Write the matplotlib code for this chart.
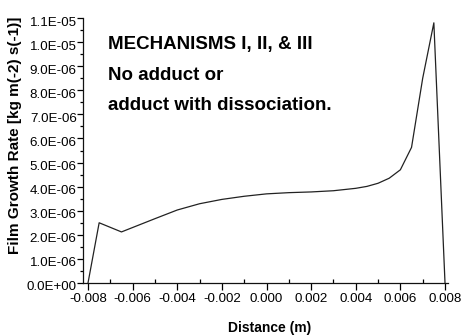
import matplotlib
matplotlib.use("Agg")
import matplotlib.pyplot as plt
from matplotlib.ticker import FuncFormatter, MultipleLocator, FixedLocator
from matplotlib.transforms import ScaledTranslation

plt.rcParams['font.family'] = ['Liberation Sans', 'DejaVu Sans']

distance = [-0.008, -0.0075, -0.0065, -0.005, -0.004, -0.003, -0.002, -0.001, 0.0,
            0.001, 0.002, 0.003, 0.004, 0.0045, 0.005, 0.0055, 0.006, 0.0065,
            0.007, 0.0075, 0.008]
growth_rate = [0.0, 2.50e-6, 2.12e-6, 2.67e-6, 3.03e-6, 3.29e-6, 3.47e-6, 3.60e-6, 3.70e-6,
               3.75e-6, 3.78e-6, 3.83e-6, 3.93e-6, 4.01e-6, 4.14e-6, 4.35e-6, 4.70e-6, 5.63e-6,
               8.50e-6, 10.80e-6, 0.0]
x_ticks = [-0.008, -0.006, -0.004, -0.002, 0.0, 0.002, 0.004, 0.006, 0.008]
y_ticks = [i * 1e-6 for i in range(12)]
annotation_lines = ["MECHANISMS I, II, & III", "No adduct or", "adduct with dissociation."]

fig = plt.figure(figsize=(4.66, 3.35), dpi=100)
ax = fig.add_axes([83/466, 1-283/335, 365/466, 265/335])

ax.plot(distance, growth_rate, color='#222222', lw=0.9)

ax.set_xlim(-0.008224, 0.008134)
ax.set_ylim(0, 1.1e-5)
ax.xaxis.set_major_locator(FixedLocator(x_ticks))
ax.xaxis.set_minor_locator(MultipleLocator(0.001))
ax.yaxis.set_major_locator(FixedLocator(y_ticks))
ax.yaxis.set_minor_locator(MultipleLocator(0.5e-6))
ax.xaxis.set_major_formatter(FuncFormatter(lambda v, p: f"{0.0 if abs(v) < 1e-12 else v:.3f}"))
ax.yaxis.set_major_formatter(FuncFormatter(lambda v, p: f"{v:.1E}"))

for s in ['top', 'right']:
    ax.spines[s].set_visible(False)
for s in ['left', 'bottom']:
    ax.spines[s].set_linewidth(0.9)
    ax.spines[s].set_color('#111111')

ax.tick_params(axis='x', which='major', direction='out', length=5, width=0.9, labelsize=9.6, pad=2)
ax.tick_params(axis='x', which='minor', direction='in', length=3, width=0.9)
ax.tick_params(axis='y', which='major', direction='out', length=4, width=0.9, labelsize=9.6, pad=0.5)
ax.tick_params(axis='y', which='minor', direction='out', length=2, width=0.9)

fig.canvas.draw()
off = ScaledTranslation(0, -0.03, fig.dpi_scale_trans)
for t in ax.yaxis.get_major_ticks():
    t.label1.set_transform(t.label1.get_transform() + off)

ypos = [0.883, 0.766, 0.653]
for txt, yy in zip(annotation_lines, ypos):
    ax.text(0.068, yy, txt, transform=ax.transAxes, fontsize=13.5, fontweight='bold',
            ha='left', va='baseline')

fig.text(15/466, 1-135/335, "Film Growth Rate [kg m(-2) s(-1)]", rotation=90,
         ha='center', va='center', fontsize=11, fontweight='bold')
fig.text(270/466, 1-328/335, "Distance (m)", ha='center', va='center',
         fontsize=10, fontweight='bold')

fig.savefig("out.png", dpi=100)
